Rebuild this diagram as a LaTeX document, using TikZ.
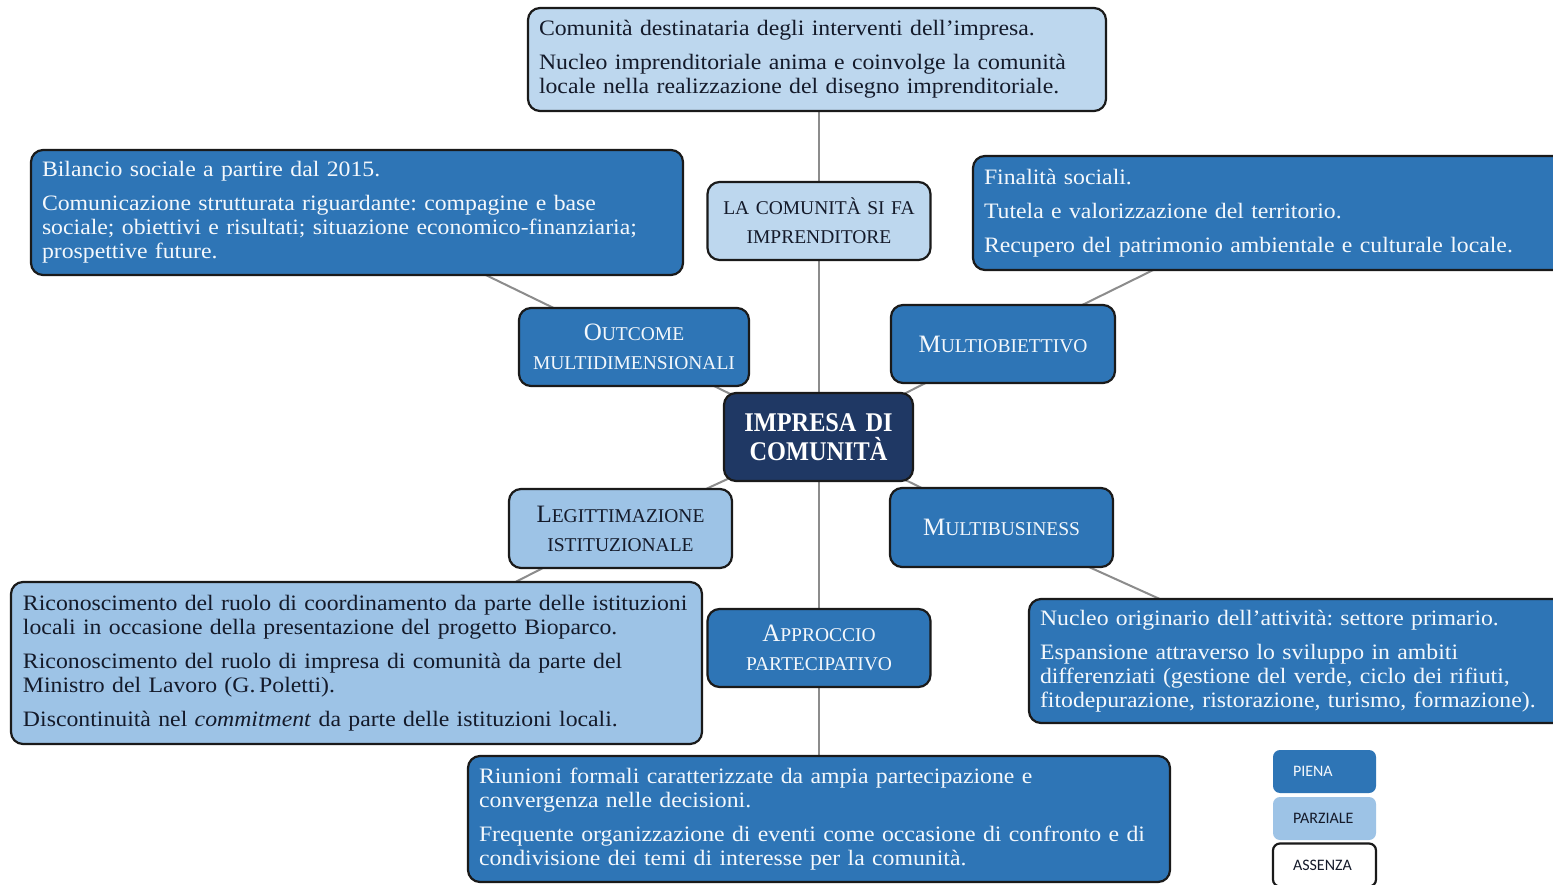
\documentclass[tikz,border=0pt]{standalone}
\usepackage{fontspec}
\setmainfont{Liberation Serif}
\newfontfamily\bodyf{Liberation Serif}[FakeStretch=1.08]
\newfontfamily\ctrf{Liberation Serif}[FakeStretch=0.9]
\newfontfamily\legf{Carlito}
\usetikzlibrary{backgrounds}
\definecolor{dkblue}{HTML}{2E75B6}
\definecolor{paleblue}{HTML}{BDD7EE}
\definecolor{ltblue}{HTML}{9DC3E6}
\definecolor{navy}{HTML}{1F3864}
\definecolor{txtw}{HTML}{F4F8FC}
\definecolor{txtd}{HTML}{141a2a}
\definecolor{bord}{HTML}{1a1a1a}
\definecolor{conn}{HTML}{8C8C8C}
\newcommand\SCx[2]{{\fontsize{25}{29}\selectfont #1}{\fontsize{19.5}{29}\selectfont #2}}
\newcommand\SCs[1]{{\fontsize{19.5}{29}\selectfont #1}}
\frenchspacing
\tikzset{
  boxbase/.style={rounded corners=12pt, line width=2.2pt, draw=bord, inner ysep=0pt},
  darkbox/.style={boxbase, fill=dkblue, text=txtw},
  palebox/.style={boxbase, fill=paleblue, text=txtd},
  lightbox/.style={boxbase, fill=ltblue, text=txtd},
  para/.style={align=left, inner xsep=11pt, font=\bodyf\fontsize{22}{24}\selectfont},
  lab/.style={align=center, inner xsep=4pt, minimum height=78pt, text width=215pt, font=\fontsize{19.5}{29}\selectfont},
  legbox/.style={rounded corners=7pt, minimum width=103pt, minimum height=43pt, text width=63pt, inner xsep=20pt, align=left, font=\legf\fontsize{16}{18}\selectfont},
  link/.style={draw=conn, line width=2pt}
}
\begin{document}
\begin{tikzpicture}[x=1pt,y=-1pt]
\clip (0,0) rectangle (1553,885);
% text boxes
\node[palebox, para, text width=556pt, minimum height=103pt] (top) at (817,59.5) {Comunità destinataria degli interventi dell’impresa.\\[10pt]Nucleo imprenditoriale anima e coinvolge la comunità\\locale nella realizzazione del disegno imprenditoriale.};
\node[darkbox, para, text width=630pt, minimum height=125pt] (bil) at (357,212.5) {Bilancio sociale a partire dal 2015.\\[10pt]Comunicazione strutturata riguardante: compagine e base\\sociale; obiettivi e risultati; situazione economico-finanziaria;\\prospettive future.};
\node[darkbox, para, text width=570pt, minimum height=114pt] (fin) at (1269,213) {Finalità sociali.\\[10pt]Tutela e valorizzazione del territorio.\\[10pt]Recupero del patrimonio ambientale e culturale locale.};
\node[lightbox, para, text width=667pt, minimum height=162pt, inner xsep=12pt] (ric) at (356.5,663) {Riconoscimento del ruolo di coordinamento da parte delle istituzioni\\locali in occasione della presentazione del progetto Bioparco.\\[10pt]Riconoscimento del ruolo di impresa di comunità da parte del\\Ministro del Lavoro (G.\,Poletti).\\[10pt]Discontinuità nel \textit{commitment} da parte delle istituzioni locali.};
\node[darkbox, para, text width=514pt, minimum height=124pt] (nuc) at (1297,661) {Nucleo originario dell’attività: settore primario.\\[10pt]Espansione attraverso lo sviluppo in ambiti\\differenziati (gestione del verde, ciclo dei rifiuti,\\fitodepurazione, ristorazione, turismo, formazione).};
\node[darkbox, para, text width=680pt, minimum height=126pt] (riu) at (819,819) {Riunioni formali caratterizzate da ampia partecipazione e\\convergenza nelle decisioni.\\[10pt]Frequente organizzazione di eventi come occasione di confronto e di\\condivisione dei temi di interesse per la comunità.};
% label boxes
\node[palebox, lab] (lacom) at (819,221) {LA COMUNITÀ SI FA\\IMPRENDITORE};
\node[darkbox, lab, text width=222pt] (out) at (634,347) {\SCx{O}{UTCOME}\\\SCs{MULTIDIMENSIONALI}};
\node[darkbox, lab, text width=216pt] (mob) at (1003,344) {\SCx{M}{ULTIOBIETTIVO}};
\node[lightbox, lab, text width=215pt, minimum height=79pt] (leg) at (620.5,528.5) {\SCx{L}{EGITTIMAZIONE}\\\SCs{ISTITUZIONALE}};
\node[darkbox, lab, text width=215pt, minimum height=79pt] (mbus) at (1001.5,527.5) {\SCx{M}{ULTIBUSINESS}};
\node[darkbox, lab, text width=215pt] (app) at (819,648) {\SCx{A}{PPROCCIO}\\\SCs{PARTECIPATIVO}};
\node[boxbase, fill=navy, text=white, align=center, text width=181pt, inner xsep=4pt, minimum height=88pt, font=\ctrf\bfseries\fontsize{27}{29}\selectfont] (ctr) at (818.5,437) {IMPRESA DI\\COMUNITÀ};
% legend
\node[legbox, fill=dkblue, text=txtw] (piena) at (1324.5,771.5) {PIENA};
\node[legbox, fill=ltblue, text=txtd] (parz) at (1324.5,818.5) {PARZIALE};
\node[legbox, draw=bord, line width=2.2pt, fill=white, text=txtd] (ass) at (1324.5,865) {ASSENZA};
% connectors
\begin{scope}[on background layer]
\fill[white] (0,0) rectangle (1553,885);
\draw[link] (lacom.center) -- (lacom.center |- top.center);
\draw[link] (lacom.center) -- (lacom.center |- ctr.center);
\draw[link] (bil.center) -- (out.center);
\draw[link] (out.center) -- (ctr.center);
\draw[link] (fin.center) -- (mob.center);
\draw[link] (mob.center) -- (ctr.center);
\draw[link] (ctr.center) -- (leg.center);
\draw[link] (ctr.center) -- (mbus.center);
\draw[link] (leg.center) -- (ric.center);
\draw[link] (mbus.center) -- (nuc.center);
\draw[link] (app.center) -- (app.center |- ctr.center);
\draw[link] (app.center) -- (app.center |- riu.center);
\end{scope}
\end{tikzpicture}
\end{document}
